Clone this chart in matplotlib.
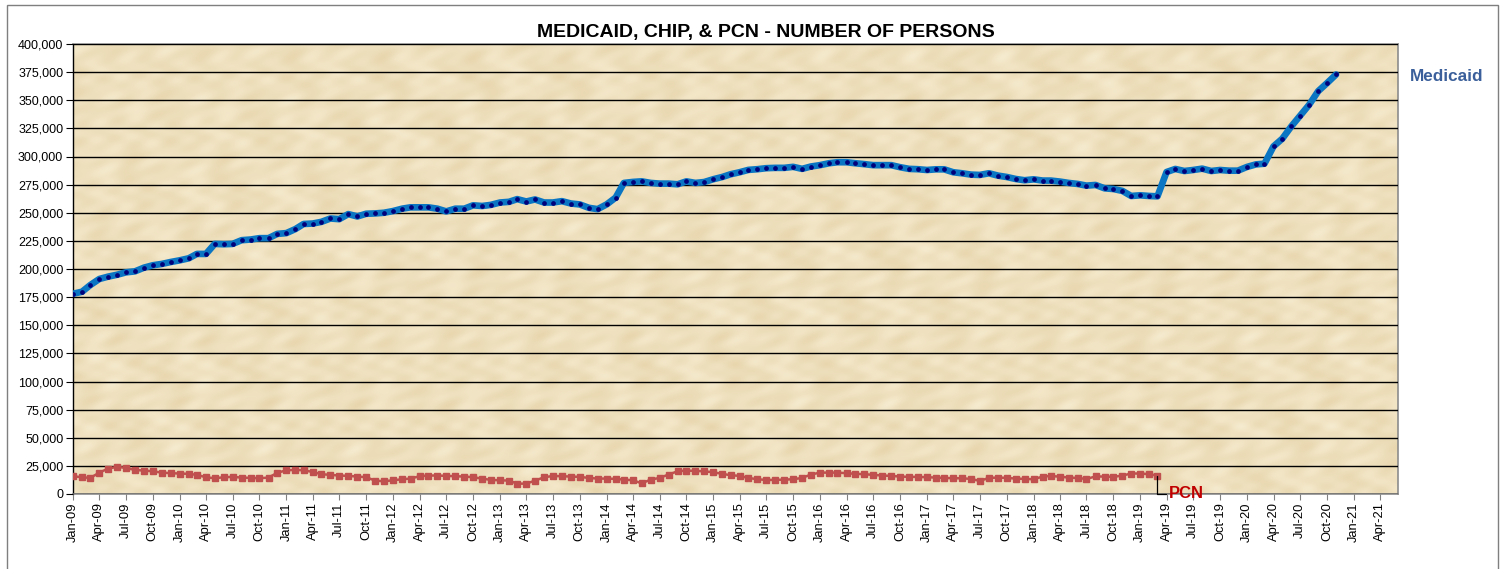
import numpy as np
import pandas as pd
import matplotlib
matplotlib.use('Agg')
import matplotlib.pyplot as plt
import matplotlib.dates as mdates
from matplotlib.ticker import MultipleLocator, StrMethodFormatter
from matplotlib.patches import Rectangle

plt.rcParams['font.family'] = ['Liberation Sans', 'DejaVu Sans']

# monthly enrollment, Jan-09 .. Nov-20
medicaid = [178000, 179800, 185700, 191100, 193200, 194900, 197000, 197900, 201200, 203300,
            204500, 206200, 207700, 209500, 213400, 213400, 222300, 222000, 222300, 225600,
            226200, 227400, 227400, 231200, 231900, 235500, 240000, 240400, 241900, 244900,
            244300, 248800, 246700, 249100, 249400, 250000, 251500, 253600, 254800, 254800,
            254800, 253600, 251200, 253600, 253600, 256600, 256000, 257000, 259100, 259700,
            262100, 260000, 261800, 259100, 259100, 260300, 258200, 257400, 254400, 253200,
            257400, 263500, 276500, 277400, 277900, 276500, 275900, 275900, 275300, 277900,
            276500, 277300, 279800, 281800, 284200, 286000, 288100, 288700, 289600, 289900,
            289900, 290800, 289000, 291100, 292300, 294000, 294900, 294900, 294000, 293200,
            292300, 292300, 292300, 290500, 289000, 288700, 288000, 288600, 288600, 286000,
            285100, 283900, 283600, 285100, 283000, 281800, 280000, 278900, 279700, 278600,
            278600, 277700, 276500, 275600, 274100, 274700, 271700, 271100, 269400, 264900,
            265500, 264900, 264600, 286200, 288900, 287100, 288000, 289200, 287100, 288000,
            287400, 287400, 290700, 293000, 293600, 309000, 315800, 326800, 336200, 346000,
            358100, 365200, 372900]

# Jan-09 .. Mar-19
pcn = [15800, 14900, 14300, 19000, 22600, 24100, 23200, 21400, 20800, 20200,
       19000, 18500, 18200, 17900, 17000, 14900, 14000, 14900, 15200, 14600,
       14300, 14000, 14600, 18800, 21100, 21400, 21100, 19600, 17600, 17000,
       16400, 16100, 15500, 14900, 11900, 11300, 12200, 13100, 13700, 15800,
       16400, 16400, 16100, 15800, 15500, 14900, 13700, 12500, 12200, 11900,
       9200, 9200, 11900, 14900, 16000, 15800, 15500, 15200, 14300, 13700,
       13700, 13400, 12800, 12200, 9500, 12800, 14300, 17300, 20200, 20800,
       20500, 20200, 19300, 17900, 16700, 16100, 14300, 13100, 12500, 12500,
       12800, 13100, 14300, 17300, 19000, 19000, 19000, 18500, 17900, 17600,
       17000, 16400, 16100, 15500, 15200, 15200, 14900, 14600, 14300, 14000,
       14000, 13400, 11600, 14300, 14600, 14300, 13700, 13400, 13100, 15500,
       16000, 15400, 14600, 14200, 13400, 15600, 15500, 15200, 16400, 18200,
       18200, 17600, 16400]

med_dates = pd.date_range('2009-01-01', periods=len(medicaid), freq='MS')
pcn_dates = pd.date_range('2009-01-01', periods=len(pcn), freq='MS')

fig = plt.figure(figsize=(15.05, 5.69), dpi=100)
ax = fig.add_axes([73 / 1505, 75 / 569, 1325 / 1505, 450 / 569])

# parchment-ish background for the plot area
yy, xx = np.mgrid[0:240, 0:800]
tex = (np.sin(xx / 6.0 + np.sin(yy / 5.0) * 2.5) * np.cos(yy / 4.0 - xx / 17.0)
       + 0.7 * np.sin(xx / 2.9 + yy / 2.3) * np.sin(yy / 3.7)
       + 0.4 * np.cos((xx - yy) / 8.0))
tex = (tex - tex.min()) / (tex.max() - tex.min())
dark = np.array([231, 213, 172]) / 255
light = np.array([246, 235, 207]) / 255
img = dark + (light - dark) * tex[..., None]
ax.imshow(img, extent=[0, 1, 0, 1], transform=ax.transAxes, aspect='auto', zorder=0,
          interpolation='bicubic')

ax.set_xlim(pd.Timestamp('2009-01-01'), pd.Timestamp('2021-06-01'))
ax.set_ylim(0, 400000)
ax.yaxis.set_major_locator(MultipleLocator(25000))
ax.yaxis.set_major_formatter(StrMethodFormatter('{x:,.0f}'))
ax.xaxis.set_major_locator(mdates.MonthLocator(bymonth=[1, 4, 7, 10]))
ax.xaxis.set_major_formatter(mdates.DateFormatter('%b-%y'))
ax.grid(axis='y', color='black', lw=1.0, zorder=1)
ax.set_axisbelow(False)
ax.tick_params(axis='x', labelrotation=90, labelsize=9.3, length=4, color='#808080', pad=2)
ax.tick_params(axis='y', labelsize=9, length=5, color='black', pad=2)

for side in ['top', 'right', 'bottom']:
    ax.spines[side].set_color('#8c8c8c')
    ax.spines[side].set_linewidth(1.2)
ax.spines['left'].set_color('black')
ax.spines['left'].set_linewidth(1.0)

ax.plot(med_dates, medicaid, color='#0a75c2', lw=4.8, solid_capstyle='round',
        solid_joinstyle='round', zorder=3)
ax.plot(med_dates, medicaid, ls='none', marker='o', ms=2.4, color='#00007a', zorder=4)
ax.plot(pcn_dates, pcn, color='#c0504d', lw=1.8, marker='s', ms=4.4, zorder=3)

ax.text(1.009, 371000, 'Medicaid', transform=ax.get_yaxis_transform(), color='#3a5f9a',
        fontsize=12.3, fontweight='bold', va='center', ha='left', clip_on=False)

ax.annotate('PCN', xy=(pcn_dates[-1], pcn[-1]), xytext=(8, -13), textcoords='offset points',
            color='#c00000', fontsize=12, fontweight='bold', va='center', ha='left',
            arrowprops=dict(arrowstyle='-', color='black', lw=0.9, shrinkA=0, shrinkB=0,
                            connectionstyle='angle,angleA=0,angleB=90,rad=0'),
            annotation_clip=False)

fig.text(766 / 1505, 1 - 32 / 569, 'MEDICAID, CHIP, & PCN - NUMBER OF PERSONS',
         ha='center', va='center', fontsize=14, fontweight='bold')

fig.patches.append(Rectangle((7 / 1505, -0.1), 1491 / 1505, 1.1 - 5 / 569,
                             transform=fig.transFigure, fill=False,
                             edgecolor='#7f7f7f', lw=1.0))

fig.savefig('out.png', dpi=100)
